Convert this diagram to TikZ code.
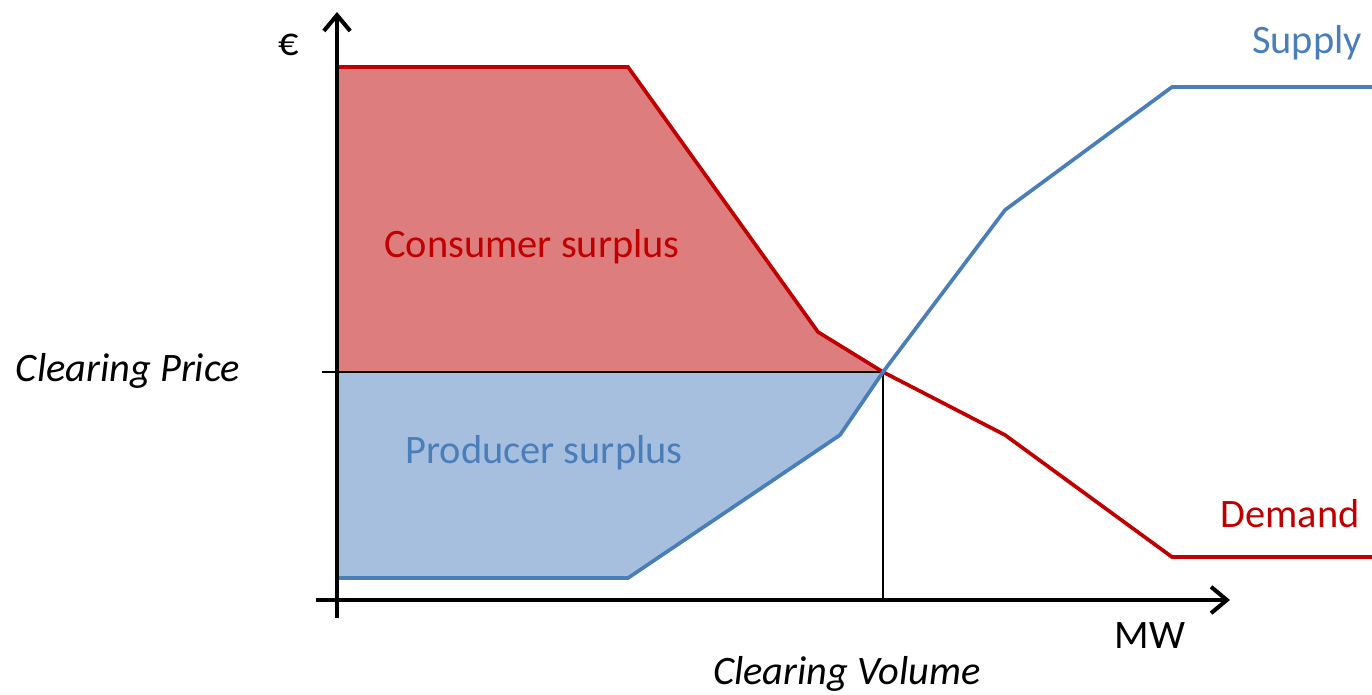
\documentclass[tikz,border=0pt]{standalone}
\usepackage{fontspec}
\setmainfont{Carlito}
\usetikzlibrary{arrows.meta}
\definecolor{dred}{RGB}{192,0,0}
\definecolor{lred}{RGB}{222,125,125}
\definecolor{dblue}{RGB}{74,126,187}
\definecolor{lblue}{RGB}{167,191,222}
\begin{document}
\begin{tikzpicture}[x=0.02cm,y=-0.02cm,
    lbl/.style={inner sep=0pt,font=\fontsize{23}{28}\selectfont},
    axis/.style={line width=2.3pt,-{Straight Barb[length=9pt,width=15pt,line width=2.3pt]}}]
        \useasboundingbox (0,0) rectangle (1372,694);
        % surplus areas
        \fill[lred] (337,67) -- (628,67) -- (818,332) -- (883,372) -- (337,372) -- cycle;
        \fill[lblue] (337,372) -- (883,372) -- (840,435) -- (628,578) -- (337,578) -- cycle;
        % clearing lines
        \draw[line width=0.9pt] (322,372) -- (883,372);
        \draw[line width=0.9pt] (883,372) -- (883,600);
        % demand and supply
        \draw[dred,line width=2.1pt] (337,67) -- (628,67) -- (818,332) -- (883,372) -- (1005,435) -- (1172,557) -- (1372,557);
        \draw[dblue,line width=2.1pt] (337,578) -- (628,578) -- (840,435) -- (883,372) -- (1005,210) -- (1172,87) -- (1372,87);
        % axes
        \draw[axis] (316,600) -- (1230,600);
        \draw[axis] (337,618) -- (337,12);
        % labels
        \node[lbl] (euro) at (289,45) {€};
        \node[lbl,dblue] (supply) at (1307,43) {Supply};
        \node[lbl,dred] (demand) at (1290,514) {Demand};
        \node[lbl] (mw) at (1150,636) {MW};
        \node[lbl] (volume) at (847,674) {\itshape Clearing Volume};
        \node[lbl] (price) at (128,371) {\itshape Clearing Price};
        \node[lbl,dred] (consumer) at (532,247) {Consumer surplus};
        \node[lbl,dblue] (producer) at (544,453) {Producer surplus};
    \end{tikzpicture}
\end{document}
